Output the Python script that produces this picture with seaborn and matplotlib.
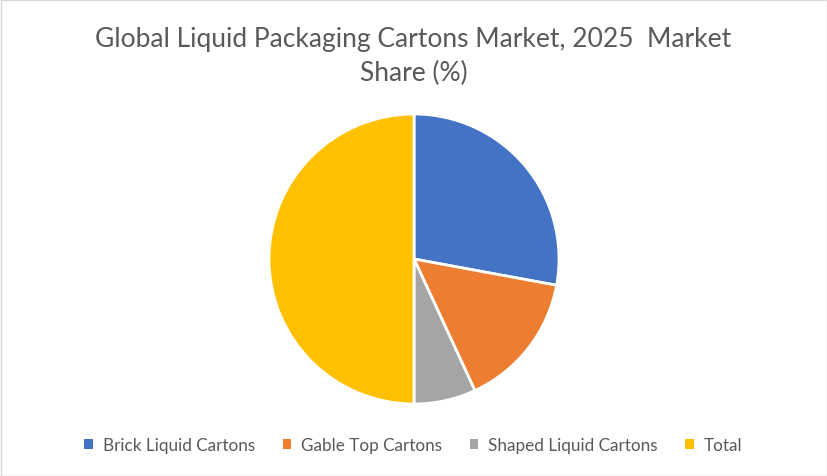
import seaborn as sns
import matplotlib.pyplot as plt
from matplotlib.patches import Patch, Rectangle

# market share data
segments = ['Brick Liquid Cartons', 'Gable Top Cartons', 'Shaped Liquid Cartons', 'Total']
shares = [27.9, 15.2, 6.9, 50.0]
colors = ['#4472C4', '#ED7D31', '#A5A5A5', '#FFC000']
title_lines = ['Global Liquid Packaging Cartons Market, 2025  Market', 'Share (%)']

sns.set_theme(style='white')
plt.rcParams['font.family'] = ['Lato', 'DejaVu Sans']

W, H = 827, 477
fig = plt.figure(figsize=(W / 100, H / 100), dpi=100)
fig.patch.set_facecolor('white')

# pie axes: centre (414, 260), radius 145 px
cx, cy, r = 414, 260, 145
ax = fig.add_axes([(cx - r) / W, (H - cy - r) / H, 2 * r / W, 2 * r / H])
ax.pie(shares, colors=colors, startangle=90, counterclock=False,
       wedgeprops=dict(edgecolor='white', linewidth=2))
ax.set_xlim(-1, 1)
ax.set_ylim(-1, 1)
ax.set_aspect('equal')
ax.axis('off')

# title, two lines as Excel wraps it
for line, base in zip(title_lines, [47, 81]):
    fig.text(0.5, 1 - base / H, line, ha='center', va='baseline', fontsize=19,
             color='#595959')

handles = [Patch(facecolor=c, edgecolor='none') for c in colors]
leg = fig.legend(handles, segments, loc='center', bbox_to_anchor=(0.5, 1 - 446 / H),
                 ncol=4, frameon=False, fontsize=12.3, handlelength=0.5, handleheight=0.5,
                 handletextpad=0.6, columnspacing=1.6)
for t in leg.get_texts():
    t.set_color('#595959')

# light outer border
fig.add_artist(Rectangle((0.5 / W, 0.5 / H), 1 - 1 / W, 1 - 1 / H, transform=fig.transFigure,
                         fill=False, edgecolor='#D9D9D9', linewidth=1))

fig.savefig('out.png', dpi=100)
